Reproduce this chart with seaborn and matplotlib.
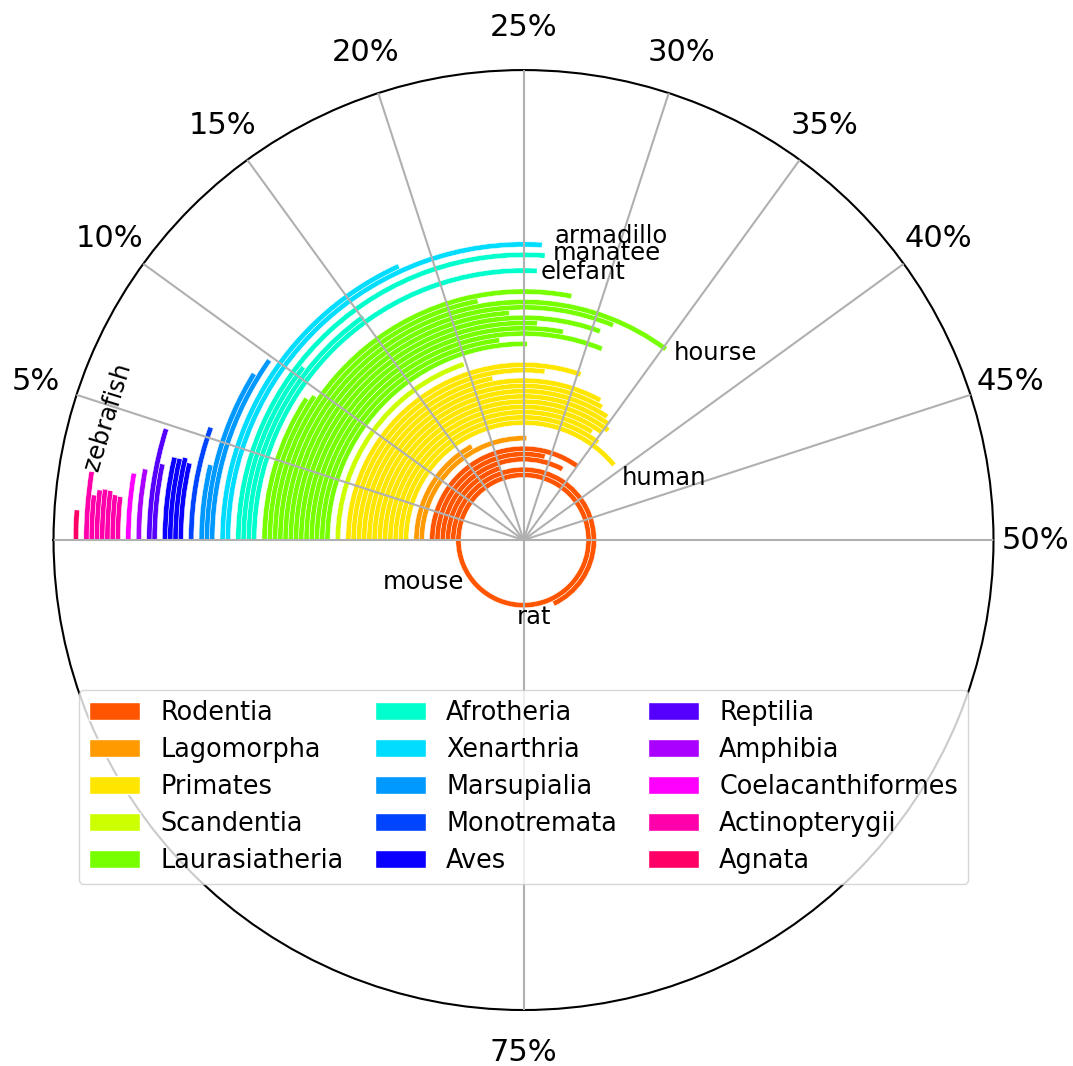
import numpy as np
import matplotlib
matplotlib.use("Agg")
import matplotlib.pyplot as plt
from matplotlib.patches import Patch
import seaborn as sns

# Share (%) per species, grouped by clade, listed from the inner ring outwards
groups = ["Rodentia", "Lagomorpha", "Primates", "Scandentia", "Laurasiatheria",
          "Afrotheria", "Xenarthria", "Marsupialia", "Monotremata", "Aves",
          "Reptilia", "Amphibia", "Coelacanthiformes", "Actinopterygii", "Agnata"]

rodentia = [100, 68, 20, 33, 29, 35]
lagomorpha = [25.5, 17]
primates = [39, 35.4, 34, 35, 35.5, 35, 34.5, 33.5, 33, 22, 27, 30.3]
scandentia = [19.8]
laurasiatheria = [25.3, 23.1, 31.2, 28, 26, 30.6, 24, 31.3, 35.2, 22, 28.1, 9.6, 9.2]
afrotheria = [25.8, 15.1, 10.6, 26.2]
xenarthria = [26, 18.2]
marsupialia = [9.8, 8.8, 3.75]
monotremata = [5.5]
aves = [3.6, 3.8, 3.7, 3.7]
reptilia = [3.3, 4.8]
amphibia = [2.95]
coelacanthiformes = [2.7]
actinopterygii = [1.70, 1.75, 1.89, 1.92, 1.87, 1.66, 2.5]
agnata = [1.07]

values = [rodentia, lagomorpha, primates, scandentia, laurasiatheria,
          afrotheria, xenarthria, marsupialia, monotremata, aves,
          reptilia, amphibia, coelacanthiformes, actinopterygii, agnata]

colors = ["#FF5500", "#FF9A00", "#FFE600", "#CCFF00", "#77FF00",
          "#00FFCC", "#00DDFF", "#0099FF", "#0044FF", "#0A00FF",
          "#5500FF", "#AA00FF", "#FF00FF", "#FF00AA", "#FF0066"]
palette = sns.color_palette(colors)

# Species annotations: (name, percent, radius, rotation)
labels = [("armadillo", 26.6, 58.3, 0), ("manatee", 26.6, 55.1, 0),
          ("elefant", 26.0, 51.3, 0), ("hourse", 35.8, 45.8, 0),
          ("human", 41.0, 22.2, 0)]
centered_labels = [("mouse", 93.7, 20.7), ("rat", 72.9, 14.8)]
zebrafish = ("zebrafish", 4.6, 82.8, 73)

tick_pct = [0, 5, 10, 15, 20, 25, 30, 35, 40, 45, 50, 75]
tick_text = [""] + [f"{p}%" for p in tick_pct[1:]]

R0 = 12.43
RMAX = 89.7

sns.set_style("white")
plt.rcParams["font.family"] = ["DejaVu Sans"]
plt.rcParams["text.color"] = "black"
plt.rcParams["xtick.color"] = "black"
plt.rcParams["xtick.labelcolor"] = "black"

fig = plt.figure(figsize=(10.73, 10.66), dpi=100)
ax = fig.add_axes([0.0499, 0.0525, 0.876, 0.8818], projection="polar")
ax.set_theta_zero_location("W")
ax.set_theta_direction(-1)

slot = 0
for name, vals, col in zip(groups, values, palette):
    pos = np.arange(slot, slot + len(vals)) + R0
    theta = np.array(vals) / 100.0 * 2 * np.pi
    ax.barh(pos, theta, left=0, height=1.0, color=col,
            edgecolor="white", linewidth=0.35, zorder=1)
    slot += len(vals) + 1

ax.set_rlim(0, RMAX)
ax.set_yticks([])
ax.set_xticks(np.array(tick_pct) / 100.0 * 2 * np.pi)
ax.set_xticklabels(tick_text, fontsize=22, color="black")
ax.tick_params(axis="x", pad=20)
ax.xaxis.grid(True, color="#b0b0b0", linewidth=1.5, zorder=1.5)
ax.set_axisbelow(False)
ax.spines["polar"].set_linewidth(1.5)
ax.spines["polar"].set_color("black")

for txt, pct, r, rot in labels:
    ax.text(pct / 100 * 2 * np.pi, r, txt, fontsize=17.5, ha="left",
            va="center", rotation=rot, color="black")
for txt, pct, r in centered_labels:
    ax.text(pct / 100 * 2 * np.pi, r, txt, fontsize=17.5, ha="center",
            va="center", color="black")
ax.text(zebrafish[1] / 100 * 2 * np.pi, zebrafish[2], zebrafish[0],
        fontsize=17.5, ha="center", va="center", rotation=zebrafish[3],
        rotation_mode="anchor", color="black")

handles = [Patch(facecolor=c, label=g) for g, c in zip(groups, palette)]
leg = ax.legend(handles=handles, ncol=3, fontsize=18.4, loc="lower center",
                bbox_to_anchor=(0.5, 0.12), columnspacing=1.2,
                handletextpad=0.8, labelspacing=0.43)
for t in leg.get_texts():
    t.set_color("black")

fig.savefig("out.png", dpi=100)
